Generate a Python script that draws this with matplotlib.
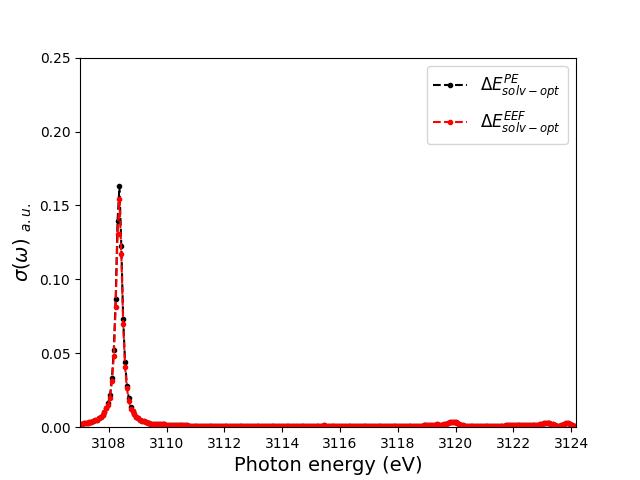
import numpy as np
import matplotlib
matplotlib.use("Agg")
import matplotlib.pyplot as plt

# energy grid of the spectrum (eV)
e_start = 3107.0
e_step = 0.065

# left tail, shared by both curves
tail_left = [0.0023, 0.0024, 0.0026, 0.0028, 0.0030, 0.0033, 0.0036, 0.0041,
             0.0046, 0.0052, 0.0060, 0.0071, 0.0085, 0.0104, 0.0131]

# main peak
peak_pe = [0.0162, 0.0215, 0.0330, 0.0520, 0.0870, 0.1395, 0.1630, 0.1225,
           0.0730, 0.0440, 0.0280, 0.0195, 0.0140]
peak_eef = [0.0150, 0.0200, 0.0310, 0.0480, 0.0815, 0.1310, 0.1545, 0.1170,
            0.0700, 0.0410, 0.0262, 0.0180, 0.0125]

# right tail and weak features, shared by both curves
tail_right = [
    0.0112, 0.0088, 0.0072, 0.0060, 0.0052, 0.0045, 0.0040, 0.0035, 0.0031, 0.0028,
    0.0025, 0.0023, 0.0022, 0.0021, 0.0020, 0.0020, 0.0019, 0.0019, 0.0018, 0.0016,
    0.0015, 0.0015, 0.0015, 0.0014, 0.0014, 0.0014, 0.0014, 0.0013, 0.0013, 0.0013,
    0.0011, 0.0008,
    # flat region 3110.9 - 3115.4
    0.0006, 0.0006, 0.0005, 0.0006, 0.0006, 0.0005, 0.0005, 0.0006, 0.0006, 0.0005,
    0.0005, 0.0005, 0.0006, 0.0006, 0.0005, 0.0005, 0.0005, 0.0005, 0.0006, 0.0005,
    0.0005, 0.0005, 0.0005, 0.0005, 0.0006, 0.0006, 0.0005, 0.0005, 0.0005, 0.0005,
    0.0005, 0.0005, 0.0005, 0.0005, 0.0005, 0.0005, 0.0006, 0.0005, 0.0005, 0.0005,
    0.0005, 0.0005, 0.0005, 0.0005, 0.0005, 0.0005, 0.0005, 0.0005, 0.0005, 0.0005,
    0.0005, 0.0005, 0.0005, 0.0005, 0.0005, 0.0005, 0.0005, 0.0005, 0.0005, 0.0005,
    0.0005, 0.0005, 0.0005, 0.0005, 0.0005, 0.0005, 0.0005, 0.0006, 0.0007,
    # small bump near 3115.45
    0.0010, 0.0015, 0.0010,
    0.0006, 0.0005, 0.0005, 0.0005, 0.0005, 0.0005, 0.0005, 0.0005, 0.0005, 0.0005,
    0.0005, 0.0005, 0.0005, 0.0005, 0.0005, 0.0005, 0.0005, 0.0005, 0.0005, 0.0005,
    0.0005, 0.0005, 0.0005, 0.0005, 0.0005, 0.0005, 0.0005, 0.0005, 0.0005, 0.0005,
    0.0005, 0.0005, 0.0005, 0.0005, 0.0005, 0.0005, 0.0005, 0.0005, 0.0005, 0.0005,
    0.0005, 0.0005, 0.0005, 0.0005, 0.0005, 0.0005, 0.0006, 0.0006, 0.0006, 0.0007,
    # features around 3119 - 3120.3
    0.0009, 0.0012, 0.0013, 0.0014, 0.0016, 0.0018, 0.0017, 0.0018, 0.0019, 0.0018,
    0.0017, 0.0018, 0.0020, 0.0022, 0.0027, 0.0033, 0.0037, 0.0038, 0.0036, 0.0030,
    0.0022, 0.0016, 0.0012,
    0.0011, 0.0010, 0.0010, 0.0010, 0.0009, 0.0009, 0.0008, 0.0008, 0.0007, 0.0007,
    0.0006, 0.0006, 0.0007, 0.0010, 0.0007, 0.0006, 0.0006, 0.0006, 0.0006, 0.0006,
    0.0007, 0.0009, 0.0012,
    # plateau 3121.8 - 3122.8
    0.0014, 0.0014, 0.0014, 0.0014, 0.0015, 0.0014, 0.0014, 0.0014, 0.0014, 0.0015,
    0.0014, 0.0014, 0.0014, 0.0014, 0.0015, 0.0015,
    # features 3122.9 - 3124.2
    0.0018, 0.0022, 0.0025, 0.0026, 0.0027, 0.0027, 0.0028, 0.0025, 0.0020, 0.0015,
    0.0011, 0.0010, 0.0012, 0.0018, 0.0024, 0.0028, 0.0026, 0.0020, 0.0014, 0.0011,
    0.0010,
]

sigma_pe = np.array(tail_left + peak_pe + tail_right)
sigma_eef = np.array(tail_left + peak_eef + tail_right)
energy = e_start + e_step * np.arange(len(sigma_pe))

fig, ax = plt.subplots(figsize=(6.4, 4.8), dpi=100)

ax.plot(energy, sigma_pe, "k--", marker=".", label=r"$\Delta E^{PE}_{solv-opt}$")
ax.plot(energy, sigma_eef, "r--", marker=".", label=r"$\Delta E^{EEF}_{solv-opt}$")

ax.set_xlim(3107.0, 3124.17)
ax.set_ylim(0, 0.25)
ax.set_xticks(np.arange(3108, 3125, 2))
ax.set_xlabel("Photon energy (eV)", fontsize=14)
ax.set_ylabel(r"$\sigma(\omega)$ $_{a.u.}$", fontsize=14)
ax.legend(loc="upper right", fontsize=12)

fig.savefig("out.png")
